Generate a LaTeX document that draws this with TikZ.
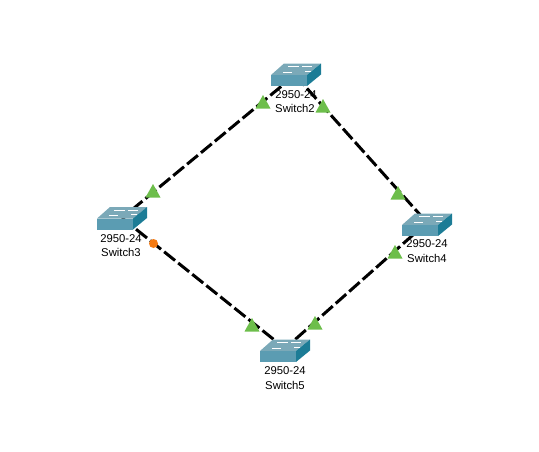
\documentclass[tikz,border=0pt]{standalone}
\usepackage{fontspec}
\setmainfont{Liberation Sans}
\definecolor{linkgreen}{HTML}{6DBE4B}
\definecolor{swtop}{HTML}{7BA9B8}
\definecolor{swfront}{HTML}{5B9CB2}
\definecolor{swside}{HTML}{1C7C96}
\definecolor{portorange}{HTML}{F47A12}
\tikzset{
  link/.style={line width=3pt,black,dash pattern=on 14pt off 4pt},
  lbl/.style={font=\fontsize{11.3}{13}\selectfont,inner sep=0pt,text=black},
  up/.pic={\fill[linkgreen] (-7.5,6.5) -- (0,-7) -- (7.5,6.5) -- cycle;},
  swtch/.pic={
    \fill[swtop] (-24,0) -- (-11,-11.5) -- (26,-11.5) -- (12,0) -- cycle;
    \fill[swfront] (-24,0) rectangle (12,11);
    \fill[swside] (12,0) -- (26,-11.5) -- (26,-0.5) -- (12,11) -- cycle;
    \draw[white,line width=.8pt] (-12,-3) -- (-3,-3) (10,-4) -- (16,-4) (-7,-8.5) -- (4,-8.5) (7,-8.5) -- (17,-8.5);
  }
}
\begin{document}
\begin{tikzpicture}[x=1pt,y=-1pt]
\useasboundingbox (0,0) rectangle (539,451);
\coordinate (s2) at (295,75);
\coordinate (s3) at (122,218);
\coordinate (s4) at (427,222.5);
\coordinate (s5) at (285,348.5);
\draw[link] (s2) -- (s3);
\draw[link] (s2) -- (s4);
\draw[link] (s3) -- (s5);
\draw[link] (s4) -- (s5);
\pic at (295,75) {swtch};
\pic at (121,218.5) {swtch};
\pic at (426,225) {swtch};
\pic at (284,351) {swtch};
\node[lbl] (m2) at (296,95) {2950-24};
\node[lbl] (n2) at (295,108.5) {Switch2};
\node[lbl] (m3) at (121,239) {2950-24};
\node[lbl] (n3) at (121,252.5) {Switch3};
\node[lbl] (m4) at (427,244) {2950-24};
\node[lbl] (n4) at (427,258) {Switch4};
\node[lbl] (m5) at (285,371) {2950-24};
\node[lbl] (n5) at (285,385) {Switch5};
\pic at (263,102) {up};
\pic at (323,106) {up};
\pic at (153,191) {up};
\pic at (398,193) {up};
\pic at (395,252) {up};
\pic at (252,325) {up};
\pic at (315,323) {up};
\fill[portorange] (153.5,243.5) circle (4.5);
\end{tikzpicture}
\end{document}
